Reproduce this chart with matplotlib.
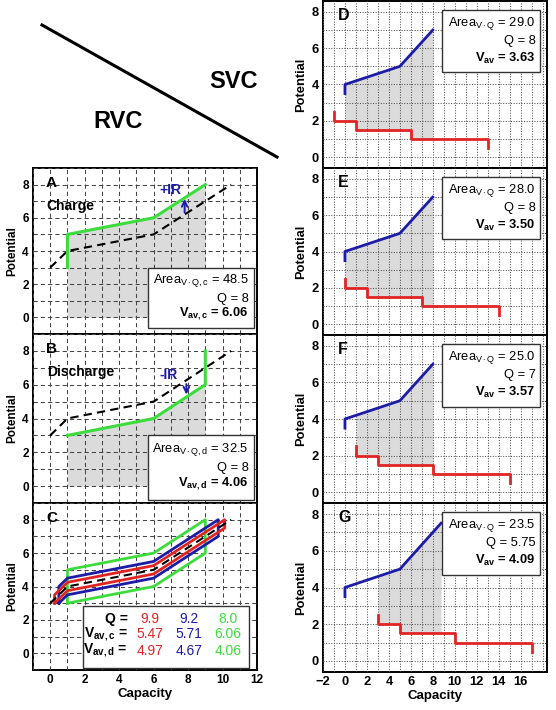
import numpy as np
import matplotlib
matplotlib.use("Agg")
import matplotlib.pyplot as plt
from matplotlib.patches import Rectangle
from matplotlib.lines import Line2D

plt.rcParams['font.family'] = ['Liberation Sans', 'DejaVu Sans']
plt.rcParams['mathtext.fontset'] = 'custom'
plt.rcParams['mathtext.rm'] = 'Liberation Sans'
plt.rcParams['mathtext.it'] = 'Liberation Sans:italic'
plt.rcParams['mathtext.bf'] = 'Liberation Sans:bold'

# ---------------- data ----------------
# open-circuit (equilibrium) curve
ocv_q = [0, 1, 6, 10.5]
ocv_v = [3, 4, 5, 8]
# panel A: charge curve (green)
chg_q = [1, 1, 6, 9]
chg_v = [3, 5, 6, 8]
# panel B: discharge curve (green)
dis_q = [1, 6, 9, 9]
dis_v = [3, 4, 6, 8]
# panel C: charge/discharge loops
loop_green_q = [1, 1, 6, 9, 9, 6, 1]
loop_green_v = [3, 5, 6, 8, 6, 4, 3]
loop_blue_q = [0.5, 0.5, 1, 6, 9.75, 9.75, 6, 1, 0.5]
loop_blue_v = [3.0, 4.0, 4.5, 5.5, 8.0, 7.0, 4.5, 3.5, 3.0]
loop_red_q = [0.25, 0.25, 1, 6, 10.125, 10.125, 6, 1, 0.25]
loop_red_v = [3.0, 3.5, 4.25, 5.25, 8.0, 7.5, 4.75, 3.75, 3.0]
table_rows = ['Q =', r'V$_{\mathbf{av,c}}$ =', r'V$_{\mathbf{av,d}}$ =']
table_red = ['9.9', '5.47', '4.97']
table_blue = ['9.2', '5.71', '4.67']
table_green = ['8.0', '6.06', '4.06']

# panels D-G: cathode (blue) and anode (red step) potentials
svc_labels = ['D', 'E', 'F', 'G']
blue_q = [[0, 0, 5, 8], [0, 0, 5, 8], [0, 0, 5, 8], [0, 0, 5, 8.75]]
blue_v = [[3.5, 4, 5, 7], [3.5, 4, 5, 7], [3.5, 4, 5, 7], [3.5, 4, 5, 7.5]]
red_q = [[-1, -1, 1, 1, 6, 6, 13, 13],
         [0, 0, 2, 2, 7, 7, 14, 14],
         [1, 1, 3, 3, 8, 8, 15, 15],
         [3, 3, 5, 5, 10, 10, 17, 17]]
red_v = [2.5, 2, 2, 1.5, 1.5, 1, 1, 0.5]
fill_range = [(0, 8), (0, 8), (1, 8), (3, 8.75)]
areas = ['29.0', '28.0', '25.0', '23.5']
qs = ['8', '8', '7', '5.75']
vavs = ['3.63', '3.50', '3.57', '4.09']

GREEN = '#3ddc3d'
BLUE = '#1c1ca6'
RED = '#e02424'
GREY = '#cccccc'
BOXFS = 9.3

fig = plt.figure(figsize=(5.56, 7.10), dpi=100)


def ax_px(l, t, r, b):
    return fig.add_axes([l / 556, 1 - b / 710, (r - l) / 556, (b - t) / 710])


def style_common(ax, show_x, grid_ls, fs, gcol):
    ax.tick_params(which='both', length=0, labelsize=fs, pad=3)
    for lab in ax.get_xticklabels() + ax.get_yticklabels():
        lab.set_fontweight('bold')
    if not show_x:
        ax.set_xticklabels([])
    ax.set_axisbelow(False)
    ax.grid(which='both', ls=grid_ls, color=gcol, lw=0.75, zorder=2)
    for s in ax.spines.values():
        s.set_linewidth(1.4)
    ax.set_ylabel('Potential', fontsize=fs, fontweight='bold', labelpad=3)


def style_left(ax, show_x):
    ax.set_xlim(-1, 12)
    ax.set_ylim(-1, 9)
    ax.set_xticks(np.arange(0, 13, 2))
    ax.set_yticks(np.arange(0, 9, 2))
    ax.set_xticks(np.arange(-1, 13, 1), minor=True)
    ax.set_yticks(np.arange(-1, 10, 1), minor=True)
    style_common(ax, show_x, (0, (4, 3)), 8.5, '#444444')


def style_right(ax, show_x):
    ax.set_xlim(-2, 18.4)
    ax.set_ylim(-0.6, 8.6)
    ax.set_xticks(np.arange(-2, 17, 2))
    ax.set_yticks(np.arange(0, 9, 2))
    ax.set_xticks(np.arange(-2, 19, 1), minor=True)
    ax.set_yticks(np.arange(0, 9, 1), minor=True)
    style_common(ax, show_x, (0, (1, 1.5)), 9.3, '#555555')


def add_box(ax, x0, y0, x1, y1):
    ax.add_patch(Rectangle((x0, y0), x1 - x0, y1 - y0, facecolor='white',
                           edgecolor='#333333', lw=1.0, zorder=5))


# ---------------- top-left decoration ----------------
fig.add_artist(Line2D([42 / 556, 277 / 556], [1 - 25 / 710, 1 - 157 / 710],
                      color='black', lw=2.2, transform=fig.transFigure))
fig.text(234 / 556, 1 - 82 / 710, 'SVC', fontsize=17, fontweight='bold',
         ha='center', va='center')
fig.text(118 / 556, 1 - 121 / 710, 'RVC', fontsize=17, fontweight='bold',
         ha='center', va='center')

# ---------------- panel A ----------------
axA = ax_px(33, 168, 257, 334)
style_left(axA, False)
xs = np.linspace(1, 9, 200)
axA.fill_between(xs, 0, np.interp(xs, chg_q[1:], chg_v[1:]), color=GREY,
                 alpha=0.7, lw=0, zorder=1)
axA.plot(ocv_q, ocv_v, color='black', ls=(0, (4, 2.5)), lw=1.5, zorder=3)
axA.plot(chg_q, chg_v, color=GREEN, lw=2.2, zorder=4)
axA.annotate('', xy=(7.8, 7.3), xytext=(7.8, 6.15),
             arrowprops=dict(arrowstyle='->', color=BLUE, lw=1.4), zorder=4)
axA.text(6.95, 7.65, '+IR', color=BLUE, fontsize=10, fontweight='bold',
         ha='center', va='center', zorder=4)
axA.text(-0.25, 8.1, 'A', fontsize=11, fontweight='bold', va='center', zorder=4)
axA.text(-0.2, 6.7, 'Charge', fontsize=10, fontweight='bold', va='center', zorder=4)
add_box(axA, 5.65, -0.65, 11.85, 3.0)
axA.text(11.5, 2.2, r'Area$_{\mathrm{V\cdot Q,c}}$ = 48.5', fontsize=BOXFS,
         ha='right', va='center', zorder=6)
axA.text(11.5, 1.12, 'Q = 8', fontsize=BOXFS, ha='right', va='center', zorder=6)
axA.text(11.5, 0.22, r'V$_{\mathbf{av,c}}$ = 6.06', fontsize=BOXFS,
         fontweight='bold', ha='right', va='center', zorder=6)

# ---------------- panel B ----------------
axB = ax_px(33, 334, 257, 503)
style_left(axB, False)
axB.fill_between(xs, 0, np.interp(xs, dis_q[:3], dis_v[:3]), color=GREY,
                 alpha=0.7, lw=0, zorder=1)
axB.plot(ocv_q, ocv_v, color='black', ls=(0, (4, 2.5)), lw=1.5, zorder=3)
axB.plot(dis_q, dis_v, color=GREEN, lw=2.2, zorder=4)
axB.annotate('', xy=(7.9, 5.25), xytext=(7.9, 6.2),
             arrowprops=dict(arrowstyle='->', color=BLUE, lw=1.4), zorder=4)
axB.text(6.9, 6.55, '-IR', color=BLUE, fontsize=10, fontweight='bold',
         ha='center', va='center', zorder=4)
axB.text(-0.25, 8.1, 'B', fontsize=11, fontweight='bold', va='center', zorder=4)
axB.text(-0.2, 6.75, 'Discharge', fontsize=10, fontweight='bold', va='center', zorder=4)
add_box(axB, 5.65, -0.85, 11.85, 3.0)
axB.text(11.5, 2.15, r'Area$_{\mathrm{V\cdot Q,d}}$ = 32.5', fontsize=BOXFS,
         ha='right', va='center', zorder=6)
axB.text(11.5, 1.08, 'Q = 8', fontsize=BOXFS, ha='right', va='center', zorder=6)
axB.text(11.5, 0.15, r'V$_{\mathbf{av,d}}$ = 4.06', fontsize=BOXFS,
         fontweight='bold', ha='right', va='center', zorder=6)

# ---------------- panel C ----------------
axC = ax_px(33, 503, 257, 670)
style_left(axC, True)
axC.plot(loop_green_q, loop_green_v, color=GREEN, lw=2.0, zorder=3)
axC.plot(loop_blue_q, loop_blue_v, color=BLUE, lw=2.0, zorder=3)
axC.plot(loop_red_q, loop_red_v, color=RED, lw=2.0, zorder=3)
axC.plot(ocv_q, ocv_v, color='black', ls=(0, (4, 2.5)), lw=1.5, zorder=4)
axC.text(-0.25, 8.1, 'C', fontsize=11, fontweight='bold', va='center', zorder=4)
axC.set_xlabel('Capacity', fontsize=9.5, fontweight='bold', labelpad=1)
add_box(axC, 1.9, -0.9, 11.55, 2.85)
row_y = [2.05, 1.15, 0.15]
for i in range(3):
    axC.text(4.5, row_y[i], table_rows[i], fontsize=10, fontweight='bold',
             ha='right', va='center', zorder=6)
    axC.text(5.8, row_y[i], table_red[i], fontsize=10, color=RED,
             ha='center', va='center', zorder=6)
    axC.text(8.05, row_y[i], table_blue[i], fontsize=10, color=BLUE,
             ha='center', va='center', zorder=6)
    axC.text(10.3, row_y[i], table_green[i], fontsize=10, color=GREEN,
             ha='center', va='center', zorder=6)

# ---------------- panels D-G ----------------
right_px = [(323, 1, 547, 168), (323, 168, 547, 335), (323, 335, 547, 503),
            (323, 503, 547, 672)]
for i in range(4):
    ax = ax_px(*right_px[i])
    style_right(ax, i == 3)
    a, b = fill_range[i]
    xf = np.linspace(a, b, 400)
    top = np.interp(xf, blue_q[i][1:], blue_v[i][1:])
    rq = red_q[i]
    edges = [rq[2], rq[4]]
    levels = np.array([red_v[1], red_v[3], red_v[5]])
    bot = levels[np.searchsorted(edges, xf, side='right')]
    ax.fill_between(xf, bot, top, color=GREY, alpha=0.7, lw=0, zorder=1)
    ax.plot(blue_q[i], blue_v[i], color=BLUE, lw=2.0, zorder=3)
    ax.plot(rq, red_v, color=RED, lw=2.0, zorder=3)
    ax.text(-0.6, 7.8, svc_labels[i], fontsize=11.5, fontweight='bold',
            va='center', zorder=4)
    add_box(ax, 8.8, 4.67, 17.75, 8.1)
    ax.text(17.35, 7.35, r'Area$_{\mathrm{V\cdot Q}}$ = ' + areas[i], fontsize=BOXFS,
            ha='right', va='center', zorder=6)
    ax.text(17.35, 6.4, 'Q = ' + qs[i], fontsize=BOXFS, ha='right', va='center',
            zorder=6)
    ax.text(17.35, 5.45, r'V$_{\mathbf{av}}$ = ' + vavs[i], fontsize=BOXFS,
            fontweight='bold', ha='right', va='center', zorder=6)
    if i == 3:
        ax.set_xlabel('Capacity', fontsize=9.5, fontweight='bold', labelpad=1)

fig.savefig('out.png', dpi=100)
